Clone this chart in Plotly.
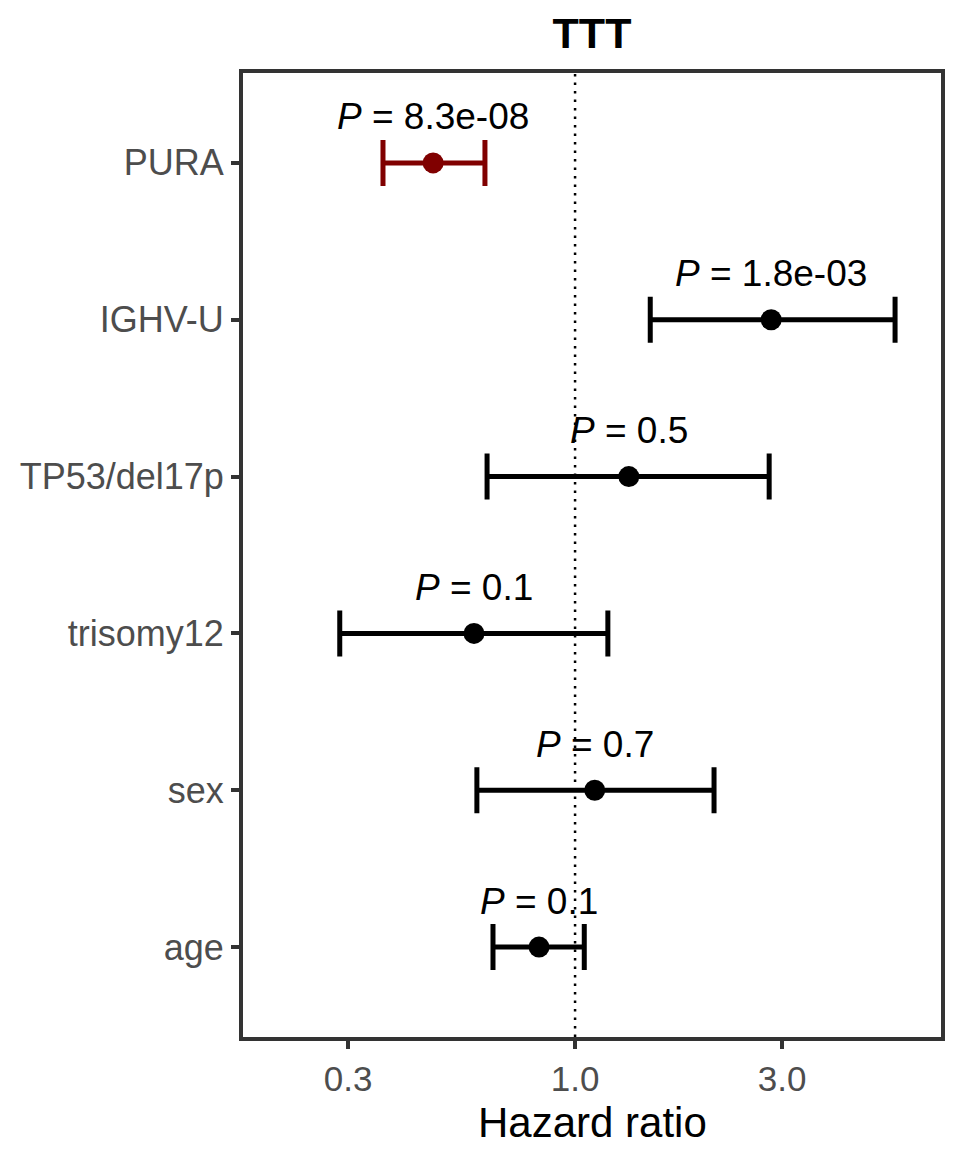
import math
import plotly.graph_objects as go

# ---- data ----
variables = ["PURA", "IGHV-U", "TP53/del17p", "trisomy12", "sex", "age"]
hazard_ratio = [0.471, 2.83, 1.33, 0.585, 1.11, 0.826]
ci_low = [0.361, 1.49, 0.627, 0.287, 0.594, 0.647]
ci_high = [0.620, 5.46, 2.80, 1.19, 2.09, 1.05]
p_labels = ["8.3e-08", "1.8e-03", "0.5", "0.1", "0.7", "0.1"]
highlight = ["PURA"]
reference_hr = 1.0

x_ticks = [0.3, 1.0, 3.0]
x_tick_text = ["0.3", "1.0", "3.0"]

FONT = "Liberation Sans, Arial, Helvetica, sans-serif"
DARKRED = "#800000"

fig = go.Figure()

# reference line at HR = 1 (on a hidden overlay y-axis spanning the full panel)
fig.add_trace(go.Scatter(
    x=[reference_hr, reference_hr], y=[0, 1], yaxis="y2", mode="lines",
    line=dict(color="black", width=2.5, dash="2.5px,6px"),
    showlegend=False, hoverinfo="skip",
))

for v, hr, lo, hi in zip(variables, hazard_ratio, ci_low, ci_high):
    col = DARKRED if v in highlight else "black"
    fig.add_trace(go.Scatter(
        x=[hr], y=[v], mode="markers",
        marker=dict(size=21, color=col),
        error_x=dict(type="data", symmetric=False,
                     array=[hi - hr], arrayminus=[hr - lo],
                     color=col, thickness=5, width=23),
        showlegend=False, hoverinfo="skip",
    ))

for v, hr, p in zip(variables, hazard_ratio, p_labels):
    fig.add_annotation(
        x=math.log10(hr), y=v, xref="x", yref="y",
        text="<i>P</i> = " + p, showarrow=False,
        yshift=46, font=dict(family=FONT, size=37, color="black"),
    )

# x-axis title
fig.add_annotation(
    x=0.5, y=0, xref="x domain", yref="paper", yanchor="middle",
    yshift=-85, text="Hazard ratio", showarrow=False, borderpad=0,
    font=dict(family=FONT, size=42, color="black"),
)

fig.update_layout(
    width=960, height=1152,
    margin=dict(l=243, r=19, t=73, b=115),
    paper_bgcolor="white", plot_bgcolor="white",
    title=dict(text="<b>TTT</b>", x=0.5 * (243 + 941) / 960, xanchor="center",
               y=1 - 33 / 1152, yanchor="middle",
               font=dict(family=FONT, size=43, color="black")),
    font=dict(family=FONT),
    yaxis2=dict(overlaying="y", range=[0, 1], visible=False, fixedrange=True),
)

fig.update_xaxes(
    type="log", range=[-0.765, 0.843],
    tickvals=x_ticks, ticktext=x_tick_text,
    ticks="outside", ticklen=8, tickwidth=4, tickcolor="#333333",
    tickfont=dict(family=FONT, size=35, color="#4D4D4D"),
    showgrid=False, zeroline=False,
    showline=True, linecolor="#333333", linewidth=4, mirror=True,
)

fig.layout.yaxis.update(
    type="category", categoryorder="array", categoryarray=variables[::-1],
    range=[-0.573, 5.573],
    ticks="outside", ticklen=8, tickwidth=4, tickcolor="#333333",
    tickfont=dict(family=FONT, size=36, color="#4D4D4D"),
    showgrid=False, zeroline=False,
    showline=True, linecolor="#333333", linewidth=4, mirror=True,
)

fig.write_html("out.html", config={"displayModeBar": False},
               post_script="document.body.style.margin='0';")
